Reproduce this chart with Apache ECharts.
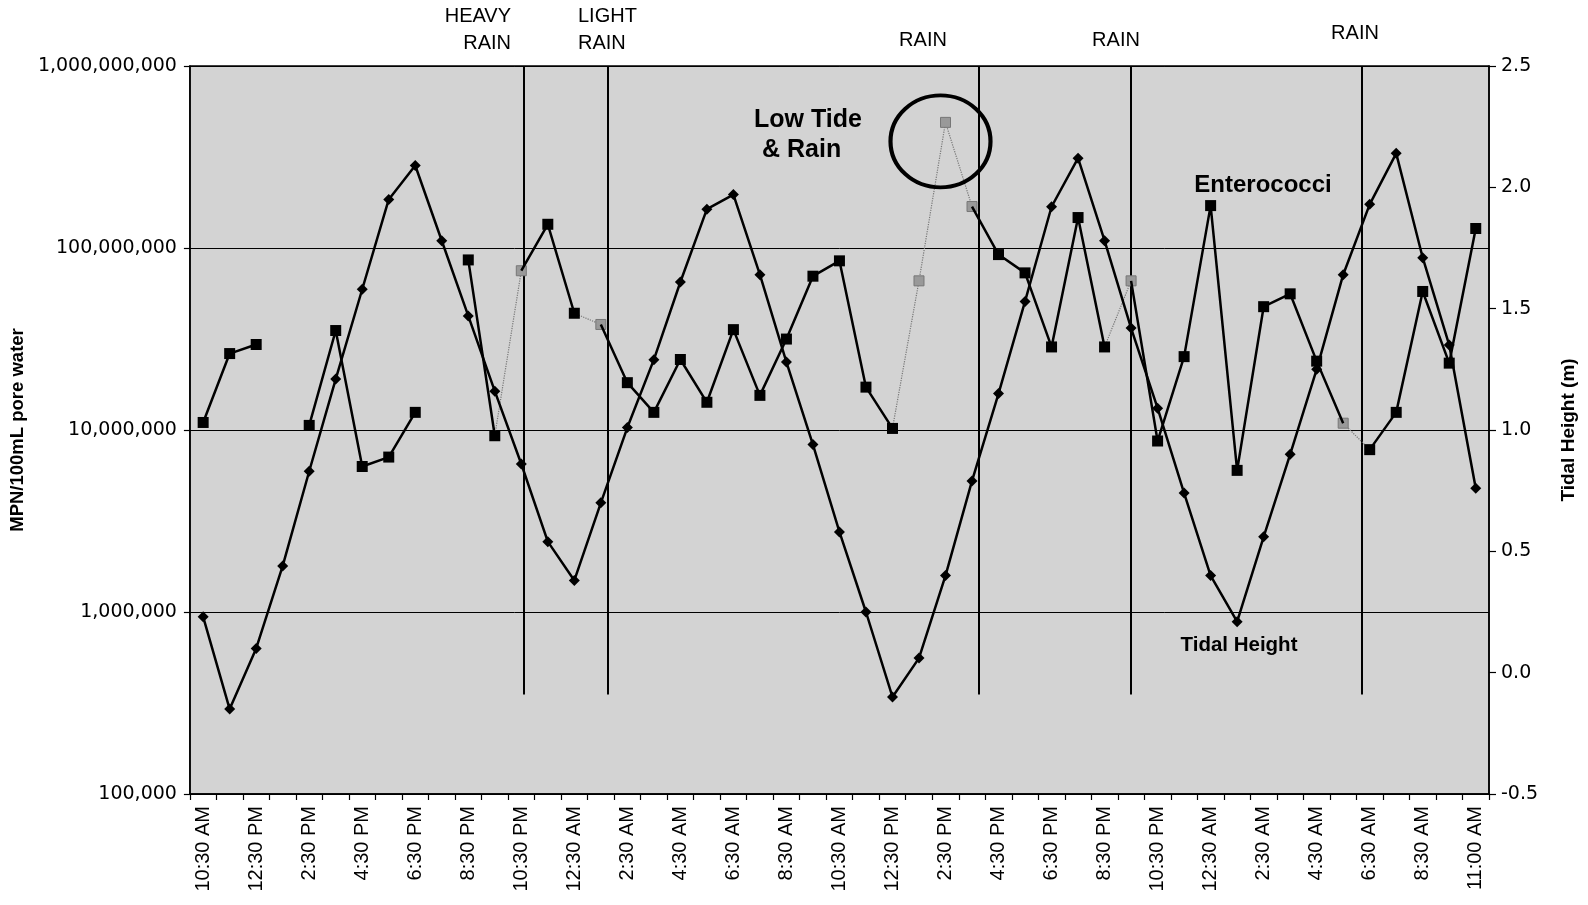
<!DOCTYPE html>
<html>
<head>
<meta charset="utf-8">
<script src="https://cdn.jsdelivr.net/npm/echarts@6/dist/echarts.min.js"></script>
<style>
html,body{margin:0;padding:0;background:#fff;}
#chart{width:1588px;height:905px;}
</style>
</head>
<body>
<div id="chart"></div>
<script>
// ---------- data ----------
var categories = [
  '10:30 AM','11:30 AM','12:30 PM','1:30 PM','2:30 PM','3:30 PM','4:30 PM','5:30 PM','6:30 PM','7:30 PM',
  '8:30 PM','9:30 PM','10:30 PM','11:30 PM','12:30 AM','1:30 AM','2:30 AM','3:30 AM','4:30 AM','5:30 AM',
  '6:30 AM','7:30 AM','8:30 AM','9:30 AM','10:30 AM','11:30 AM','12:30 PM','1:30 PM','2:30 PM','3:30 PM',
  '4:30 PM','5:30 PM','6:30 PM','7:30 PM','8:30 PM','9:30 PM','10:30 PM','11:30 PM','12:30 AM','1:30 AM',
  '2:30 AM','3:30 AM','4:30 AM','5:30 AM','6:30 AM','7:30 AM','8:30 AM','9:30 AM','11:00 AM'
];

var enterococci = [
  11.0e6, 26.3e6, 29.5e6, null, 10.6e6, 35.2e6, 6.3e6, 7.1e6, 12.5e6, null,
  86e6, 9.3e6, 75e6, 135e6, 43.8e6, 38e6, 18.2e6, 12.5e6, 24.4e6, 14.2e6,
  35.6e6, 15.5e6, 31.6e6, 70e6, 85e6, 17.2e6, 10.2e6, 66e6, 490e6, 169e6,
  92e6, 73e6, 28.6e6, 147e6, 28.6e6, 66e6, 8.7e6, 25.3e6, 171e6, 6.0e6,
  47.6e6, 56e6, 23.9e6, 10.9e6, 7.8e6, 12.5e6, 57.7e6, 23.3e6, 128e6
];

var tidalHeight = [
  0.23, -0.15, 0.10, 0.44, 0.83, 1.21, 1.58, 1.95, 2.09, 1.78,
  1.47, 1.16, 0.86, 0.54, 0.38, 0.70, 1.01, 1.29, 1.61, 1.91,
  1.97, 1.64, 1.28, 0.94, 0.58, 0.25, -0.10, 0.06, 0.40, 0.79,
  1.15, 1.53, 1.92, 2.12, 1.78, 1.42, 1.09, 0.74, 0.40, 0.21,
  0.56, 0.90, 1.25, 1.64, 1.93, 2.14, 1.71, 1.35, 0.76
];

// samples drawn grey (rain samples) and segments drawn as thin dotted lines (start index)
var greyPoints = [12, 15, 27, 28, 29, 35, 43];
var dottedSegments = [11, 14, 26, 27, 28, 34, 43];

// rain event boundaries (position on the hourly sample axis)
var rainLines = [12.1, 15.27, 29.24, 35.0, 43.7];
var rainLineBottom = -0.09;  // tidal-axis value where the boundary lines stop

var leftTicks = [1e5, 1e6, 1e7, 1e8, 1e9];
var rightTicks = [-0.5, 0, 0.5, 1.0, 1.5, 2.0, 2.5];

// ---------- build series data ----------
var FONT = '"Liberation Sans", Arial, sans-serif';
var NUMFONT = '"DejaVu Sans", sans-serif';
var solidData = [];
for (var i = 0; i < enterococci.length; i++) {
  var v = enterococci[i];
  if (v == null) { solidData.push([i, '-']); continue; }
  if (dottedSegments.indexOf(i - 1) >= 0) solidData.push([i, '-']);
  if (greyPoints.indexOf(i) >= 0) solidData.push({ value: [i, v], symbol: 'none' });
  else solidData.push([i, v]);
}
var dottedData = [];
for (var j = 0; j < enterococci.length; j++) {
  var inc = dottedSegments.indexOf(j) >= 0 || dottedSegments.indexOf(j - 1) >= 0;
  if (!inc || enterococci[j] == null) { dottedData.push('-'); continue; }
  if (greyPoints.indexOf(j) >= 0) dottedData.push(enterococci[j]);
  else dottedData.push({ value: enterococci[j], symbol: 'none' });
}
var rainLineData = rainLines.map(function (x) {
  return { coords: [[x, rainLineBottom], [x, 2.5]] };
});

var chart = echarts.init(document.getElementById('chart'), null, { renderer: 'canvas' });

function txt(text, x, y, size, bold, align) {
  return {
    type: 'text', x: x, y: y, z: 100,
    style: {
      text: text, fill: '#000',
      font: (bold ? 'bold ' : '') + size + 'px ' + FONT,
      align: align || 'center', verticalAlign: 'middle'
    }
  };
}

var option = {
  backgroundColor: '#ffffff',
  animation: false,
  grid: {
    left: 187, right: 99, top: 66, bottom: 111,
    show: true, backgroundColor: '#d3d3d3', borderColor: '#000', borderWidth: 1.5
  },
  xAxis: [{
    type: 'category', data: categories, boundaryGap: true, gridIndex: 0, position: 'bottom',
    axisLine: { show: true, onZero: false, lineStyle: { color: '#000', width: 1.5 } },
    axisTick: { show: true, interval: 0, length: 6, lineStyle: { color: '#000', width: 1.2 } },
    axisLabel: { interval: 1, rotate: 90, margin: 12, color: '#000', fontSize: 20, fontFamily: FONT },
    splitLine: { show: false }
  }, {
    type: 'value', min: -0.5, max: 48.5, show: false, gridIndex: 0,
    axisLine: { show: false, onZero: false }
  }],
  yAxis: [{
    type: 'log', logBase: 10, min: leftTicks[0], max: leftTicks[leftTicks.length - 1], position: 'left',
    name: 'MPN/100mL pore water', nameLocation: 'middle', nameRotate: 90, nameGap: 158,
    nameTextStyle: { color: '#000', fontSize: 18.5, fontWeight: 'bold', fontFamily: FONT },
    axisLine: { show: true, onZero: false, lineStyle: { color: '#000', width: 1.5 } },
    axisTick: { show: true, length: 6, lineStyle: { color: '#000', width: 1.2 } },
    minorTick: { show: false },
    axisLabel: {
      margin: 13, color: '#000', fontSize: 19, fontFamily: NUMFONT,
      formatter: function (v) { return Math.round(v).toLocaleString('en-US'); }
    },
    splitLine: { show: true, lineStyle: { color: '#000', width: 1 } }
  }, {
    type: 'value', min: rightTicks[0], max: rightTicks[rightTicks.length - 1], interval: 0.5, position: 'right',
    name: 'Tidal Height (m)', nameLocation: 'middle', nameRotate: 90, nameGap: 70,
    nameTextStyle: { color: '#000', fontSize: 19, fontWeight: 'bold', fontFamily: FONT },
    axisLine: { show: true, onZero: false, lineStyle: { color: '#000', width: 1.5 } },
    axisTick: { show: true, length: 7, lineStyle: { color: '#000', width: 1.2 } },
    axisLabel: {
      margin: 12, color: '#000', fontSize: 19, fontFamily: NUMFONT,
      formatter: function (v) { return v.toFixed(1); }
    },
    splitLine: { show: false }
  }],
  series: [{
    name: 'Rain boundaries', type: 'lines', coordinateSystem: 'cartesian2d',
    xAxisIndex: 1, yAxisIndex: 1, silent: true, z: 1,
    lineStyle: { color: '#000', width: 2, opacity: 1 },
    data: rainLineData
  }, {
    name: 'Enterococci (rain)', type: 'line', xAxisIndex: 0, yAxisIndex: 0,
    data: dottedData, connectNulls: false, z: 3,
    symbol: 'rect', symbolSize: 10,
    itemStyle: { color: '#999', borderColor: '#777', borderWidth: 1 },
    lineStyle: { color: '#777', width: 1.2, type: 'dotted' },
    markPoint: {
      silent: true,
      symbol: 'path://M0 50A50 50 0 1 1 100 50A50 50 0 1 1 0 50Z',
      symbolSize: [100, 92], symbolOffset: [-5, 19],
      itemStyle: { color: 'rgba(0,0,0,0)', borderColor: '#000', borderWidth: 4 },
      label: { show: false },
      data: [{ coord: [28, enterococci[28]] }]
    }
  }, {
    name: 'Enterococci', type: 'line', xAxisIndex: 0, yAxisIndex: 0,
    data: solidData, connectNulls: false, z: 4,
    symbol: 'rect', symbolSize: 11,
    itemStyle: { color: '#000' },
    lineStyle: { color: '#000', width: 2.5 }
  }, {
    name: 'Tidal Height', type: 'line', xAxisIndex: 0, yAxisIndex: 1,
    data: tidalHeight, z: 5,
    symbol: 'diamond', symbolSize: 11,
    itemStyle: { color: '#000' },
    lineStyle: { color: '#000', width: 2.5 }
  }],
  graphic: [
    txt('HEAVY', 511, 16.5, 20, false, 'right'),
    txt('RAIN', 511, 43.5, 20, false, 'right'),
    txt('LIGHT', 578, 16.5, 20, false, 'left'),
    txt('RAIN', 578, 43.5, 20, false, 'left'),
    txt('RAIN', 923, 40.5, 20, false, 'center'),
    txt('RAIN', 1116, 40.5, 20, false, 'center'),
    txt('RAIN', 1355, 33, 20, false, 'center'),
    txt('Low Tide', 754, 120.5, 25, true, 'left'),
    txt('& Rain', 762, 150, 25, true, 'left'),
    txt('Enterococci', 1263, 185, 24, true, 'center'),
    txt('Tidal Height', 1239, 645, 20.5, true, 'center')
  ]
};
chart.setOption(option);
</script>
</body>
</html>
